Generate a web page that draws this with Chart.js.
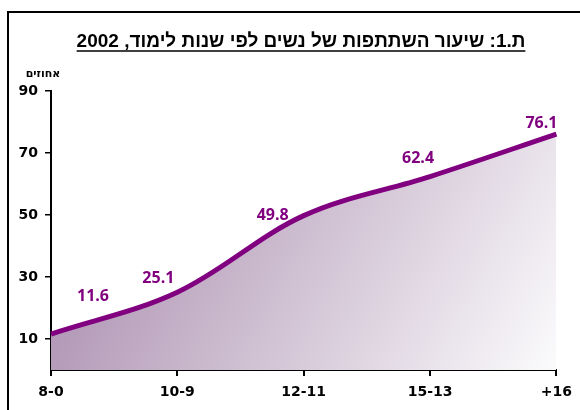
<!DOCTYPE html>
<html>
<head>
<meta charset="utf-8">
<script src="https://cdn.jsdelivr.net/npm/chart.js@4"></script>
<style>
  html, body { margin: 0; padding: 0; background: #fff; }
  #wrap { width: 580px; height: 410px; position: relative; }
</style>
</head>
<body>
<div id="wrap"><canvas id="c" width="580" height="410"></canvas></div>
<script>
// ---- data ----
const categories = ["8-0", "10-9", "12-11", "15-13", "+16"];
const participation = [11.6, 25.1, 49.8, 62.4, 76.1];
const yTickValues = [10, 30, 50, 70, 90];
const chartTitle = "ת.1: שיעור השתתפות של נשים לפי שנות לימוד, 2002";
const yAxisTitle = "אחוזים";

// label offsets (styling, in px relative to each point)
const labelOffsets = [[42, -38], [-19, -14], [-31, 0], [-12, -18], [-15, -11]];

const purple = '#800080';

const framePlugin = {
  id: 'frame',
  afterDraw(chart) {
    const ctx = chart.ctx;
    ctx.save();
    ctx.strokeStyle = '#000';
    ctx.lineWidth = 2;
    ctx.beginPath();
    ctx.moveTo(8, 410);
    ctx.lineTo(8, 12);
    ctx.lineTo(580, 12);
    ctx.stroke();

    // title
    ctx.fillStyle = '#000';
    ctx.font = 'bold 19px "Liberation Sans", Arial, sans-serif';
    ctx.direction = 'rtl';
    ctx.textAlign = 'center';
    ctx.textBaseline = 'alphabetic';
    const cx = 301, by = 47;
    ctx.fillText(chartTitle, cx, by);
    const w = ctx.measureText(chartTitle).width;
    ctx.lineWidth = 1.5;
    ctx.beginPath();
    ctx.moveTo(cx - w / 2, by + 4);
    ctx.lineTo(cx + w / 2, by + 4);
    ctx.stroke();

    // y axis title
    ctx.font = 'bold 11px "DejaVu Sans", sans-serif';
    ctx.textBaseline = 'middle';
    ctx.fillText(yAxisTitle, 43, 74);
    ctx.restore();
  }
};

const labelPlugin = {
  id: 'valueLabels',
  afterDatasetsDraw(chart) {
    const ctx = chart.ctx;
    const meta = chart.getDatasetMeta(0);
    ctx.save();
    ctx.fillStyle = purple;
    ctx.font = 'bold 16px "Open Sans", sans-serif';
    ctx.textAlign = 'center';
    ctx.textBaseline = 'middle';
    meta.data.forEach((pt, i) => {
      const off = labelOffsets[i] || [0, -12];
      ctx.fillText(participation[i].toFixed(1), pt.x + off[0], pt.y + off[1]);
    });
    ctx.restore();
  }
};

new Chart(document.getElementById('c'), {
  type: 'line',
  data: {
    labels: categories,
    datasets: [{
      data: participation,
      borderColor: purple,
      borderWidth: 5,
      tension: 0.35,
      pointRadius: 0,
      fill: 'origin',
      backgroundColor(context) {
        const ca = context.chart.chartArea;
        if (!ca) return 'rgba(160,130,160,0.6)';
        const g = context.chart.ctx.createLinearGradient(ca.left, ca.top, ca.right, ca.bottom);
        g.addColorStop(0, 'rgb(160,128,165)');
        g.addColorStop(1, 'rgb(251,251,252)');
        return g;
      }
    }]
  },
  options: {
    responsive: false,
    animation: false,
    layout: { padding: { left: 0, top: 91, right: 22, bottom: 0 } },
    plugins: {
      legend: { display: false },
      tooltip: { enabled: false },
      title: { display: false }
    },
    scales: {
      x: {
        offset: false,
        grid: { display: true, drawOnChartArea: false, drawTicks: true, tickLength: 6, color: '#000', lineWidth: 2 },
        border: { display: true, color: '#000', width: 2 },
        ticks: {
          color: '#000',
          font: { family: '"DejaVu Sans", sans-serif', weight: 'bold', size: 14 },
          padding: 8,
          maxRotation: 0,
          autoSkip: false
        },
        afterFit(axis) { axis.height = 40; }
      },
      y: {
        min: 0,
        max: 90,
        afterBuildTicks(axis) { axis.ticks = yTickValues.map(v => ({ value: v })); },
        grid: { display: true, drawOnChartArea: false, drawTicks: true, tickLength: 6, color: '#000', lineWidth: 1.5 },
        border: { display: true, color: '#000', width: 2 },
        ticks: {
          color: '#000',
          font: { family: '"DejaVu Sans", sans-serif', weight: 'bold', size: 14 },
          padding: 7
        },
        afterFit(axis) { axis.width = 51; }
      }
    }
  },
  plugins: [framePlugin, labelPlugin]
});
</script>
</body>
</html>
